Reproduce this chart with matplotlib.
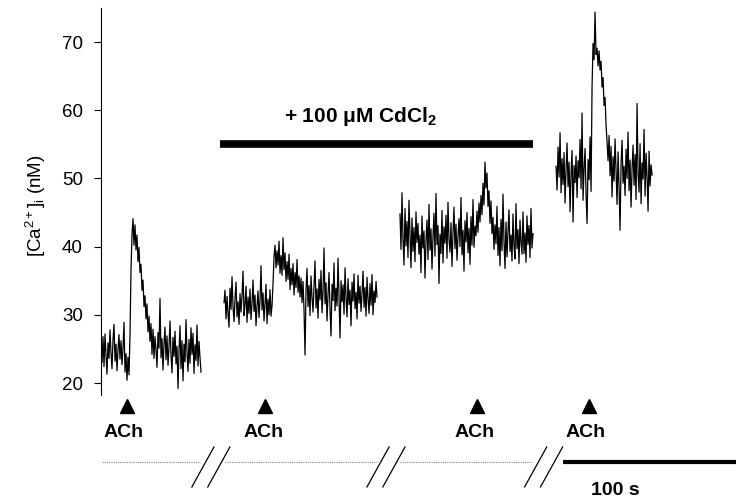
import numpy as np
import matplotlib
matplotlib.use('Agg')
import matplotlib.pyplot as plt

plt.rcParams['font.family'] = ['Liberation Sans', 'DejaVu Sans']
plt.rcParams['mathtext.fontset'] = 'custom'
plt.rcParams['mathtext.rm'] = 'Liberation Sans'
plt.rcParams['mathtext.it'] = 'Liberation Sans:italic'
plt.rcParams['mathtext.bf'] = 'Liberation Sans:bold'

# --- data: [Ca2+]i traces (nM), one sample every dt seconds ---
dt = 0.578
seg_start = [0.0, 71.1, 172.8, 263.0]   # display start of each trace (s)

ca_control = [
    25.5, 23.0, 26.8, 22.4, 27.2, 24.1, 21.3, 25.9, 23.6, 27.8, 24.4, 22.1, 26.3, 28.6, 23.2,
    25.7, 21.8, 24.9, 27.1, 23.5, 26.2, 22.7, 25.1, 28.9, 21.6, 24.3, 20.4, 23.8, 21.2,
    27.0, 36.5, 41.8, 44.1, 40.2, 43.2, 39.5, 41.7, 37.8, 39.9, 36.2, 37.4, 33.6, 35.1, 31.2,
    32.8, 29.4, 31.6, 27.5, 29.8, 26.1, 28.7, 24.2, 27.9, 23.6, 26.8, 24.9, 22.3, 27.4, 25.1,
    32.4, 23.7, 26.5, 21.9, 25.8, 28.2, 23.4, 26.9, 22.6, 25.3, 29.1, 24.0, 21.5, 26.7, 23.9,
    27.6, 22.8, 25.4, 19.2, 24.6, 28.4, 22.1, 26.2, 20.3, 25.7, 23.1, 29.3, 24.5, 21.7, 26.4,
    22.9, 28.1, 24.2, 27.3, 21.4, 25.6, 23.3, 28.5, 22.5, 26.1, 23.7, 21.6,
]

ca_cd_1 = [
    31.8, 33.6, 29.4, 32.7, 30.1, 28.2, 33.9, 30.8, 35.6, 31.2, 29.0, 32.4, 34.8, 29.7, 31.9,
    28.6, 33.1, 30.4, 32.8, 36.4, 29.9, 31.5, 34.2, 28.9, 32.6, 30.2, 33.8, 29.3, 31.7, 35.1,
    30.5, 32.9, 28.4, 31.3, 33.5, 29.6, 32.1, 37.2, 30.7, 33.2, 29.1, 31.6, 34.5, 28.7, 32.3,
    30.0, 33.7, 29.8, 31.4,
    34.5, 38.6, 40.2, 36.9, 39.4, 37.3, 40.8, 36.1, 38.7, 35.8, 41.3, 36.6, 39.1, 34.9, 37.8,
    35.2, 38.9, 33.7, 36.8, 34.4, 37.5, 32.9, 36.2, 34.0, 38.1, 33.3, 35.7, 32.6,
    35.4, 31.8, 34.9, 30.7, 24.1, 33.6, 36.8, 31.2, 34.3, 29.9, 35.7, 32.5, 30.4, 34.1, 37.9,
    31.0, 33.8, 29.5, 35.2, 32.2, 36.5, 30.3, 33.4, 39.8, 31.6, 34.7, 29.1, 33.0, 36.2, 30.8,
    26.9, 34.5, 32.1, 37.6, 30.6, 33.9, 31.3, 38.3, 32.7, 26.6, 35.0, 31.9, 34.4, 30.1, 36.9,
    32.4, 29.7, 35.3, 31.5, 33.6, 28.4, 34.8, 32.0, 36.0, 30.9, 33.3, 29.4, 35.8, 31.7, 34.2,
    30.5, 33.1, 36.4, 31.1, 34.0, 29.8, 35.5, 32.3, 30.2, 34.6, 31.4, 35.9, 30.0, 33.5, 31.8,
    34.9, 32.6,
]

ca_cd_2 = [
    44.8, 39.6, 47.9, 41.2, 37.3, 45.6, 40.1, 43.7, 38.4, 46.8, 41.9, 36.9, 44.2, 39.3, 42.8,
    37.8, 45.1, 40.6, 43.4, 38.9, 41.7, 36.2, 44.5, 39.8, 42.3, 35.4, 40.9, 43.9, 38.1, 46.2,
    39.5, 42.6, 36.7, 41.4, 44.9, 38.6, 47.8, 40.3, 43.1, 34.6, 41.8, 39.0, 45.3, 37.6, 42.9,
    40.5, 44.6, 38.3, 46.5, 41.1, 39.2, 43.5, 37.1, 42.0, 45.8, 39.7, 43.3, 38.0, 41.5, 44.1,
    40.0, 47.2, 38.8, 42.4, 36.4, 43.8, 40.7, 45.0, 39.1, 42.7, 37.4, 44.4, 40.2, 46.9, 39.9,
    43.0,
    41.6, 45.2, 42.1, 46.4, 43.6, 47.5, 44.7, 49.3, 46.1, 52.4, 48.6, 50.8, 45.9, 48.2, 43.4,
    46.7, 41.9, 44.3, 39.6, 43.2,
    40.4, 45.9, 38.7, 42.8, 37.2, 44.0, 39.4, 47.7, 40.8, 36.8, 43.6, 38.5, 42.2, 45.4, 39.3,
    41.7, 37.9, 44.8, 40.1, 38.2, 46.3, 39.7, 42.5, 37.5, 43.9, 40.6, 38.9, 45.1, 39.0, 42.0,
    37.7, 44.5, 40.3, 43.1, 38.4, 45.6, 39.8, 41.9,
]

ca_washout = [
    51.8, 48.3, 54.6, 50.2, 56.7, 47.9, 52.9, 49.1, 53.8, 46.4, 51.3, 55.2, 48.8, 52.4, 45.1,
    50.7, 54.1, 43.6, 51.9, 49.4, 53.3, 47.2, 52.6, 50.1, 55.7, 48.5, 59.6, 46.8, 51.5, 54.4,
    47.6, 43.4, 52.8, 49.8, 56.1, 48.1,
    63.5, 69.8, 67.4, 74.4, 68.2, 69.1, 66.5, 68.7, 65.9, 67.2, 63.4, 64.8, 60.7, 61.9, 57.8,
    55.4,
    52.6, 56.3, 50.4, 54.7, 47.3, 53.2, 49.6, 55.8, 51.1, 46.2, 53.9, 48.7, 42.4, 52.1, 55.6,
    49.3, 51.8, 47.5, 54.3, 50.0, 56.8, 48.2, 52.7, 45.8, 51.4, 54.9, 49.0, 53.5, 46.9, 61.0,
    50.6, 48.0, 55.1, 46.3, 52.3, 49.9, 57.2, 47.4, 53.7, 50.3, 45.2, 54.0, 48.9, 52.0, 50.5,
]

traces = [ca_control, ca_cd_1, ca_cd_2, ca_washout]

# ACh application times (display s)
ach_times = [15.0, 94.8, 217.3, 282.1]
ach_label_x = [13.3, 94.0, 216.0, 279.8]

# CdCl2 application bar
cd_start, cd_end, cd_level = 68.8, 249.7, 55.0

# dotted time line pieces and the // breaks between them
time_pieces = [(0.6, 57.2), (71.7, 159.5), (172.8, 249.1)]
break_x = [63.5, 164.7, 255.8]

fig = plt.figure(figsize=(7.36, 5.01), dpi=100)
ax = fig.add_axes([101 / 736, 106 / 501, 635 / 736, 387 / 501])

for start, vals in zip(seg_start, traces):
    t = start + np.arange(len(vals)) * dt
    ax.plot(t, vals, color='black', lw=0.9)

ax.set_xlim(0, 367)
ax.set_ylim(18.24, 75)
ax.set_yticks([20, 30, 40, 50, 60, 70])
ax.tick_params(axis='y', direction='out', length=5, width=0.8, labelsize=13.5, pad=8)
ax.set_xticks([])
for s in ['top', 'right', 'bottom']:
    ax.spines[s].set_visible(False)
ax.spines['left'].set_linewidth(0.8)
ax.set_ylabel(r'[Ca$^{2+}$]$_\mathrm{i}$ (nM)', fontsize=13.5)
ax.yaxis.set_label_coords(-0.083, 0.49)

# CdCl2 bar + label
ax.plot([cd_start, cd_end], [cd_level, cd_level], color='black', lw=5.5,
        solid_capstyle='butt')
ax.text(149.7, 59.1, r'+ 100 μM CdCl$_\mathbf{2}$',
        ha='center', va='center', fontsize=15, fontweight='bold')

# ACh markers below the traces
for tx, lx in zip(ach_times, ach_label_x):
    ax.plot([tx], [16.6], marker='^', color='black', markersize=10.5, clip_on=False)
    ax.text(lx, 12.8, 'ACh', ha='center', va='center', fontsize=14,
            fontweight='bold', clip_on=False)

# dotted time axis with breaks
for a, b in time_pieces:
    ax.plot([a, b], [8.42, 8.42], color='gray', lw=0.8, ls=(0, (1, 1)), clip_on=False)
for bx in break_x:
    for off in (-4.6, 4.6):
        ax.plot([bx + off - 6.4, bx + off + 6.4], [4.75, 10.62], color='black',
                lw=0.9, clip_on=False)

# 100 s scale bar
ax.plot([267, 367], [8.42, 8.42], color='black', lw=3, solid_capstyle='butt',
        clip_on=False)
ax.text(297, 4.3, '100 s', ha='center', va='center', fontsize=14,
        fontweight='bold', clip_on=False)

fig.savefig('out.png', dpi=100)
